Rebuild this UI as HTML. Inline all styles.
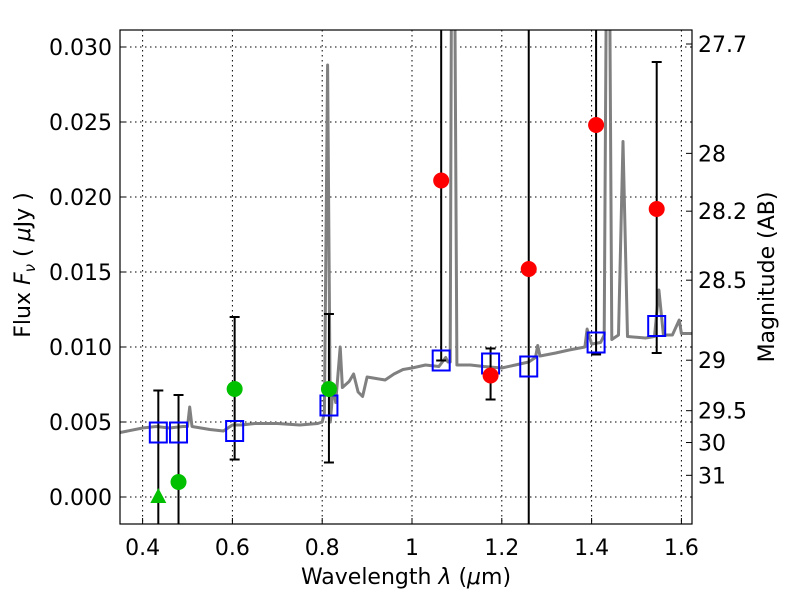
<!DOCTYPE html>
<html><head><meta charset="utf-8"><style>
body{margin:0;background:#fff}
svg{font-family:"DejaVu Sans","Liberation Sans",sans-serif}
</style></head><body>
<svg id="chart" width="800" height="600" viewBox="0 0 800 600" xmlns="http://www.w3.org/2000/svg">
<defs><clipPath id="clip"><rect x="120" y="30" width="572" height="494"/></clipPath></defs>
<rect x="0" y="0" width="800" height="600" fill="#fff"/>
<g id="grid"></g>
<g id="marks" clip-path="url(#clip)"></g>
<rect x="120" y="30" width="572" height="494" fill="none" stroke="#000" stroke-width="1.2"/>
<g id="axes"></g>
<text x="406" y="584" font-size="22" text-anchor="middle">Wavelength  <tspan font-style="italic">λ</tspan> (<tspan font-style="italic">μ</tspan>m)</text>
<text transform="translate(30,265) rotate(-90)" font-size="22" text-anchor="middle">Flux  <tspan font-style="italic">F<tspan font-size="15" dy="5">ν</tspan></tspan><tspan dy="-5">   (  </tspan><tspan font-style="italic">μ</tspan>Jy )</text>
<text transform="translate(774,277) rotate(-90)" font-size="22" text-anchor="middle">Magnitude (AB)</text>
</svg>
<script>
const xTicks=[0.4,0.6,0.8,1.0,1.2,1.4,1.6];
const xTickLabels=["0.4","0.6","0.8","1","1.2","1.4","1.6"];
const yTicks=[0,0.005,0.01,0.015,0.02,0.025,0.03];
const yTickLabels=["0.000","0.005","0.010","0.015","0.020","0.025","0.030"];
const magTicks=[27.7,28,28.2,28.5,29,29.5,30,31];
const magTickLabels=["27.7","28","28.2","28.5","29","29.5","30","31"];
const specWave=[0.35,0.40,0.43,0.46,0.49,0.50,0.505,0.51,0.55,0.58,0.60,0.62,0.65,0.70,0.75,0.79,0.80,0.805,0.812,0.818,0.825,0.83,0.84,0.845,0.86,0.87,0.88,0.89,0.90,0.92,0.94,0.96,0.98,1.0,1.03,1.06,1.075,1.08,1.085,1.088,1.095,1.10,1.13,1.16,1.2,1.23,1.26,1.275,1.28,1.285,1.32,1.35,1.385,1.39,1.40,1.42,1.428,1.433,1.44,1.445,1.46,1.47,1.48,1.52,1.54,1.55,1.56,1.58,1.595,1.60,1.624];
const specFlux=[0.0043,0.0046,0.0047,0.0046,0.0047,0.0047,0.0060,0.0047,0.0045,0.0044,0.0048,0.0048,0.0049,0.0049,0.0048,0.0049,0.0050,0.0056,0.0288,0.0050,0.0075,0.0063,0.0100,0.0073,0.0077,0.0082,0.0070,0.0067,0.0080,0.0079,0.0078,0.0082,0.0085,0.0086,0.0088,0.0087,0.0093,0.0090,0.0090,0.035,0.035,0.0088,0.0088,0.0087,0.0086,0.0088,0.0090,0.0093,0.0101,0.0094,0.0096,0.0098,0.0100,0.0112,0.0102,0.0103,0.0108,0.035,0.035,0.0105,0.0108,0.0237,0.0107,0.0106,0.0107,0.0138,0.0108,0.0108,0.0118,0.0109,0.0109];
const modelWave=[0.435,0.48,0.605,0.815,1.065,1.175,1.26,1.41,1.545];
const modelFlux=[0.0043,0.0043,0.0044,0.0061,0.0091,0.0089,0.0087,0.0103,0.0114];
const obsWave=[0.435,0.48,0.605,0.815,1.065,1.175,1.26,1.41,1.545];
const obsFlux=[0.0,0.0010,0.0072,0.0072,0.0211,0.0081,0.0152,0.0248,0.0192];
const obsLow=[-0.003,-0.003,0.0025,0.0023,0.0091,0.0065,-0.003,0.0095,0.0096];
const obsHigh=[0.0071,0.0068,0.0120,0.0122,0.040,0.0099,0.040,0.040,0.0290];
const obsColor=["#00c000","#00c000","#00c000","#00c000","#ff0000","#ff0000","#ff0000","#ff0000","#ff0000"];
const obsShape=["tri","circle","circle","circle","circle","circle","circle","circle","circle"];

const NS="http://www.w3.org/2000/svg";
const X=l=>142.6+(l-0.4)*449;
const Y=f=>497-f*15000;
const M=m=>Y(Math.pow(10,(23.9-m)/2.5));
function mk(tag,attrs,parent){const e=document.createElementNS(NS,tag);for(const k in attrs)e.setAttribute(k,attrs[k]);parent.appendChild(e);return e;}
const grid=document.getElementById('grid'),marks=document.getElementById('marks'),axes=document.getElementById('axes');
xTicks.forEach((t,i)=>{
  const g=mk('line',{x1:X(t),x2:X(t),y1:30,y2:524,stroke:'#000','stroke-width':1,'stroke-dasharray':'1.5,3.5'},grid);
  
  
  const tx=mk('text',{x:X(t),y:555,'font-size':22,'text-anchor':'middle'},axes);
  tx.textContent=xTickLabels[i];
  
  
  mk('line',{x1:X(t),x2:X(t),y1:524,y2:518,stroke:'#000'},axes);
});
yTicks.forEach((t,i)=>{
  const g=mk('line',{x1:120,x2:692,y1:Y(t),y2:Y(t),stroke:'#000','stroke-width':1,'stroke-dasharray':'1.5,3.5'},grid);
  
  
  const tx=mk('text',{x:112,y:Y(t)+8,'font-size':22,'text-anchor':'end'},axes);
  tx.textContent=yTickLabels[i];
  
  
  mk('line',{x1:120,x2:126,y1:Y(t),y2:Y(t),stroke:'#000'},axes);
});
magTicks.forEach((m,i)=>{
  const y=M(m);
  mk('line',{x1:686,x2:692,y1:y,y2:y,stroke:'#000'},axes);
  const tx=mk('text',{x:698,y:y+8,'font-size':22},axes);
  tx.textContent=magTickLabels[i];
  
  
});
const pts=specWave.map((w,i)=>X(w).toFixed(1)+','+Y(specFlux[i]).toFixed(1)).join(' ');
const sp=mk('polyline',{points:pts,fill:'none',stroke:'#808080','stroke-width':3,'stroke-linejoin':'round'},marks);


obsWave.forEach((w,i)=>{
  const x=X(w),y1=Y(obsHigh[i]),y2=Y(obsLow[i]);
  const e=mk('line',{x1:x,x2:x,y1:y1,y2:y2,stroke:'#000','stroke-width':2},marks);
  
  
  [y1,y2].forEach(yy=>mk('line',{x1:x-5,x2:x+5,y1:yy,y2:yy,stroke:'#000','stroke-width':2},marks));
});
modelWave.forEach((w,i)=>{
  const s=mk('rect',{x:X(w)-8.5,y:Y(modelFlux[i])-10,width:17,height:20,fill:'none',stroke:'#0000ff','stroke-width':2},marks);
  
  
});
obsWave.forEach((w,i)=>{
  const x=X(w),y=Y(obsFlux[i]);let p;
  if(obsShape[i]==='tri'){p=mk('polygon',{points:`${x},${y-9} ${x-8},${y+6} ${x+8},${y+6}`,fill:obsColor[i]},marks);}
  else{p=mk('circle',{cx:x,cy:y,r:8,fill:obsColor[i]},marks);}
  
  
});
</script>
</body></html>
